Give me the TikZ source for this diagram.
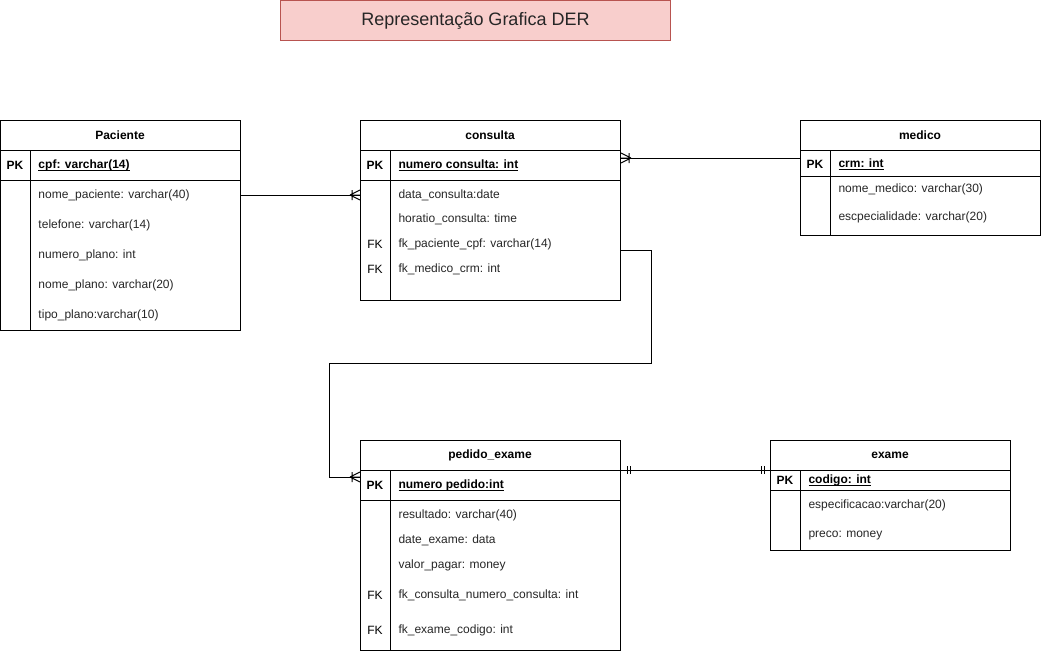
\documentclass[tikz,border=0pt]{standalone}
\usepackage{fontspec}
\setmainfont{Liberation Sans}
\newcommand\myuline[1]{\setbox0\hbox{#1}\leavevmode\rlap{\vrule height -1.1pt depth 1.8pt width \wd0}\box0}
\begin{document}
\begin{tikzpicture}[x=0.75pt,y=-0.75pt,line width=0.75pt,
  tbl/.style={draw=black, inner sep=0pt, anchor=north west},
  sep/.style={draw=black, line width=0.75pt},
  head/.style={inner sep=0pt, font=\fontsize{9}{11}\selectfont\bfseries},
  field/.style={anchor=west, inner sep=0pt, yshift=-0.6pt, font=\fontsize{9}{11}\selectfont, text=black!85},
  pkfield/.style={anchor=west, inner sep=0pt, yshift=-0.6pt, font=\fontsize{9}{11}\selectfont\bfseries},
  pk/.style={inner sep=0pt, yshift=-0.6pt, font=\fontsize{9}{11}\selectfont\bfseries},
  fk/.style={inner sep=0pt, yshift=-0.6pt, font=\fontsize{9}{11}\selectfont},
  conn/.style={draw=black, line width=0.75pt},
  crowfoot/.pic={\draw[line width=0.75pt] (-10,0) -- (0,-5) (-10,0) -- (0,0) (-10,0) -- (0,5) (-8,-5) -- (-8,5);},
  onebars/.pic={\draw[line width=0.75pt] (-6,-4) -- (-6,4) (-9,-4) -- (-9,4);}
]
\useasboundingbox (0,0) rectangle (1041,651);

% Title
\node[draw={rgb,255:red,184;green,84;blue,80}, fill={rgb,255:red,248;green,206;blue,204}, inner sep=0pt,
  minimum width=292.5pt, minimum height=30pt, anchor=north west, text=black!85,
  font=\fontsize{13.5}{16}\selectfont] (title) at (280,0) {Representação Grafica DER};

% ---------- Paciente ----------
\node[tbl, minimum width=180pt, minimum height=157.5pt] (paciente) at (0,120) {};
\draw[sep] (0,150) -- (240,150) (0,180) -- (240,180) (30,150) -- (30,330);
\node[head] (pacH) at (120,135) {Paciente};
\node[pk] (pacPK) at (15,165) {PK};
\node[pkfield] (pacF0) at (38,165) {\myuline{cpf: varchar(14)}};
\node[field] (pacF1) at (38,195) {nome\_paciente: varchar(40)};
\node[field] (pacF2) at (38,225) {telefone: varchar(14)};
\node[field] (pacF3) at (38,255) {numero\_plano: int};
\node[field] (pacF4) at (38,285) {nome\_plano: varchar(20)};
\node[field] (pacF5) at (38,315) {tipo\_plano:varchar(10)};

% ---------- consulta ----------
\node[tbl, minimum width=195pt, minimum height=135pt] (consulta) at (360,120) {};
\draw[sep] (360,150) -- (620,150) (360,180) -- (620,180) (390,150) -- (390,300);
\node[head] (conH) at (490,135) {consulta};
\node[pk] (conPK) at (375,165) {PK};
\node[pkfield] (conF0) at (398,165) {\myuline{numero consulta: int}};
\node[field] (conF1) at (398,195) {data\_consulta:date};
\node[field] (conF2) at (398,219) {horatio\_consulta: time};
\node[fk] (conFK1) at (375,244) {FK};
\node[field] (conF3) at (398,244) {fk\_paciente\_cpf: varchar(14)};
\node[fk] (conFK2) at (375,269) {FK};
\node[field] (conF4) at (398,269) {fk\_medico\_crm: int};

% ---------- medico ----------
\node[tbl, minimum width=180pt, minimum height=86.25pt] (medico) at (800,120) {};
\draw[sep] (800,150) -- (1040,150) (800,176) -- (1040,176) (830,150) -- (830,235);
\node[head] (medH) at (920,135) {medico};
\node[pk] (medPK) at (815,164) {PK};
\node[pkfield] (medF0) at (838,164) {\myuline{crm: int}};
\node[field] (medF1) at (838,189) {nome\_medico: varchar(30)};
\node[field] (medF2) at (838,217) {escpecialidade: varchar(20)};

% ---------- pedido_exame ----------
\node[tbl, minimum width=195pt, minimum height=157.5pt] (pedido) at (360,440) {};
\draw[sep] (360,470) -- (620,470) (360,500) -- (620,500) (390,470) -- (390,650);
\node[head] (pedH) at (490,455) {pedido\_exame};
\node[pk] (pedPK) at (375,485) {PK};
\node[pkfield] (pedF0) at (398,485) {\myuline{numero pedido:int}};
\node[field] (pedF1) at (398,515) {resultado: varchar(40)};
\node[field] (pedF2) at (398,540) {date\_exame: data};
\node[field] (pedF3) at (398,565) {valor\_pagar: money};
\node[fk] (pedFK1) at (375,595) {FK};
\node[field] (pedF4) at (398,595) {fk\_consulta\_numero\_consulta: int};
\node[fk] (pedFK2) at (375,630) {FK};
\node[field] (pedF5) at (398,630) {fk\_exame\_codigo: int};

% ---------- exame ----------
\node[tbl, minimum width=180pt, minimum height=82.5pt] (exame) at (770,440) {};
\draw[sep] (770,470) -- (1010,470) (770,490) -- (1010,490) (800,470) -- (800,550);
\node[head] (exaH) at (890,455) {exame};
\node[pk] (exaPK) at (785,480) {PK};
\node[pkfield] (exaF0) at (808,480) {\myuline{codigo: int}};
\node[field] (exaF1) at (808,505) {especificacao:varchar(20)};
\node[field] (exaF2) at (808,535) {preco: money};

% ---------- connectors ----------
% Paciente -> consulta
\draw[conn] (paciente.east |- 0,195) -- (consulta.west |- 0,195);
\pic at (consulta.west |- 0,195) {crowfoot};
% medico -> consulta
\draw[conn] (medico.west |- 0,158) -- (consulta.east |- 0,158);
\pic[xscale=-1] at (consulta.east |- 0,158) {crowfoot};
% consulta -> pedido_exame
\coordinate (c1) at (651,250);
\coordinate (c2) at (651,363);
\coordinate (c3) at (329,363);
\coordinate (c4) at (329,477);
\draw[conn] (consulta.east |- 0,250) -- (c1) -- (c2) -- (c3) -- (c4) -- (pedido.west |- 0,477);
\pic at (pedido.west |- 0,477) {crowfoot};
% pedido_exame -- exame
\draw[conn] (pedido.east |- 0,470) -- (exame.west |- 0,470);
\pic[xscale=-1] at (pedido.east |- 0,470) {onebars};
\pic at (exame.west |- 0,470) {onebars};
\end{tikzpicture}
\end{document}
